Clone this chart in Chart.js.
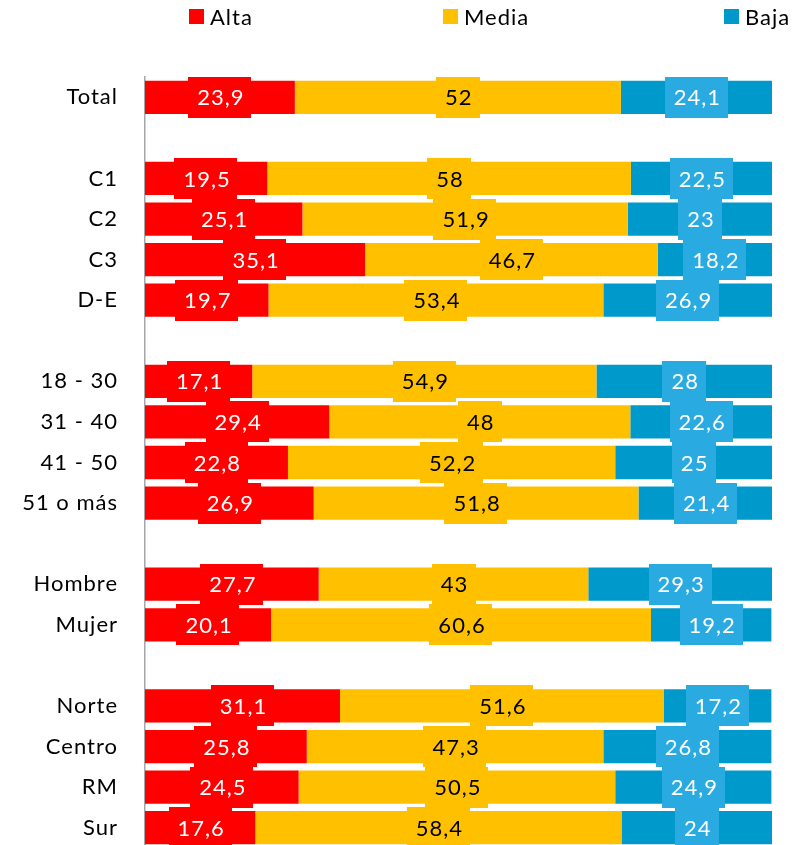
<!DOCTYPE html>
<html>
<head>
<meta charset="utf-8">
<script src="https://cdn.jsdelivr.net/npm/chart.js@4"></script>
<style>
  body { margin: 0; background: #fff; overflow: hidden; font-family: Lato, sans-serif; }
  #wrap { position: relative; width: 800px; height: 850px; }
  #legend { position: absolute; top: 3px; left: 189px; display: flex; font-size: 22px; letter-spacing: 1px; color: #000; }
  .item { display: flex; align-items: center; }
  .item .sw { width: 15px; height: 15px; margin-right: 6px; }
  canvas { position: absolute; left: 0; top: 0; }
</style>
</head>
<body>
<div id="wrap">
  <canvas id="chart" width="800" height="850"></canvas>
  <div id="legend"></div>
</div>
<script>
// ===============================
// DATA
// ===============================

const categories = ["Total", "", "C1", "C2", "C3", "D-E", "", "18 - 30", "31 - 40", "41 - 50", "51 o más", "",
  "Hombre", "Mujer", "", "Norte", "Centro", "RM", "Sur"];

const alta  = [23.9, null, 19.5, 25.1, 35.1, 19.7, null, 17.1, 29.4, 22.8, 26.9, null, 27.7, 20.1, null, 31.1, 25.8, 24.5, 17.6];
const media = [52,   null, 58,   51.9, 46.7, 53.4, null, 54.9, 48,   52.2, 51.8, null, 43,   60.6, null, 51.6, 47.3, 50.5, 58.4];
const baja  = [24.1, null, 22.5, 23,   18.2, 26.9, null, 28,   22.6, 25,   21.4, null, 29.3, 19.2, null, 17.2, 26.8, 24.9, 24];

const seriesNames = ["Alta", "Media", "Baja"];
const seriesValues = [alta, media, baja];

// ===============================
// STYLE
// ===============================

const barColors = ["#FF0000", "#FFC000", "#0099CC"];
const labelBg = ["#FF0000", "#FFC000", "#29ABE2"];
const labelText = ["#FFFFFF", "#000000", "#FFFFFF"];
const legendWidths = [254, 281, 80];

// ===============================
// LEGEND (html)
// ===============================

document.getElementById("legend").innerHTML = seriesNames.map((name, i) => `
  <div class="item" style="width:${legendWidths[i]}px">
    <span class="sw" style="background:${barColors[i]}"></span><span>${name}</span>
  </div>`).join("");

// ===============================
// LABEL BOXES
// ===============================

const spacing = {
  id: "spacing",
  beforeDraw(chart) { chart.ctx.letterSpacing = "1px"; }
};

const boxLabels = {
  id: "boxLabels",
  afterDatasetsDraw(chart) {
    const ctx = chart.ctx;
    ctx.save();
    ctx.font = "22px Lato";
    ctx.letterSpacing = "1px";
    ctx.textAlign = "center";
    ctx.textBaseline = "middle";
    chart.data.datasets.forEach((ds, i) => {
      chart.getDatasetMeta(i).data.forEach((bar, j) => {
        const v = ds.data[j];
        if (v == null) return;
        const txt = String(v).replace(".", ",");
        const w = ctx.measureText(txt).width + 16;
        const h = 41;
        const { x, y } = bar.getCenterPoint();
        ctx.fillStyle = labelBg[i];
        ctx.fillRect(Math.round(x - w / 2), Math.round(y - h / 2), Math.round(w), h);
        ctx.fillStyle = labelText[i];
        ctx.fillText(txt, x + 1, y + 1);
      });
    });
    ctx.restore();
  }
};

// ===============================
// CHART
// ===============================

new Chart(document.getElementById("chart"), {
  type: "bar",
  data: {
    labels: categories,
    datasets: seriesValues.map((vals, i) => ({
      label: seriesNames[i],
      data: vals,
      backgroundColor: barColors[i],
      borderWidth: 0,
      barPercentage: 0.82,
      categoryPercentage: 1
    }))
  },
  options: {
    indexAxis: "y",
    responsive: false,
    maintainAspectRatio: false,
    animation: false,
    layout: { padding: { top: 77, right: 28, bottom: 2, left: 0 } },
    plugins: { legend: { display: false }, tooltip: { enabled: false } },
    scales: {
      x: { stacked: true, min: 0, max: 100, display: false },
      y: {
        stacked: true,
        grid: { display: false, drawTicks: false },
        border: { display: true, color: "#A6A6A6", width: 1.5 },
        ticks: { color: "#000", font: { family: "Lato", size: 22 }, padding: 27, autoSkip: false },
        afterFit(scale) {
          scale.width = 145;
          scale.paddingTop = 0;
          scale.paddingBottom = 0;
        }
      }
    }
  },
  plugins: [spacing, boxLabels]
});
</script>
</body>
</html>
